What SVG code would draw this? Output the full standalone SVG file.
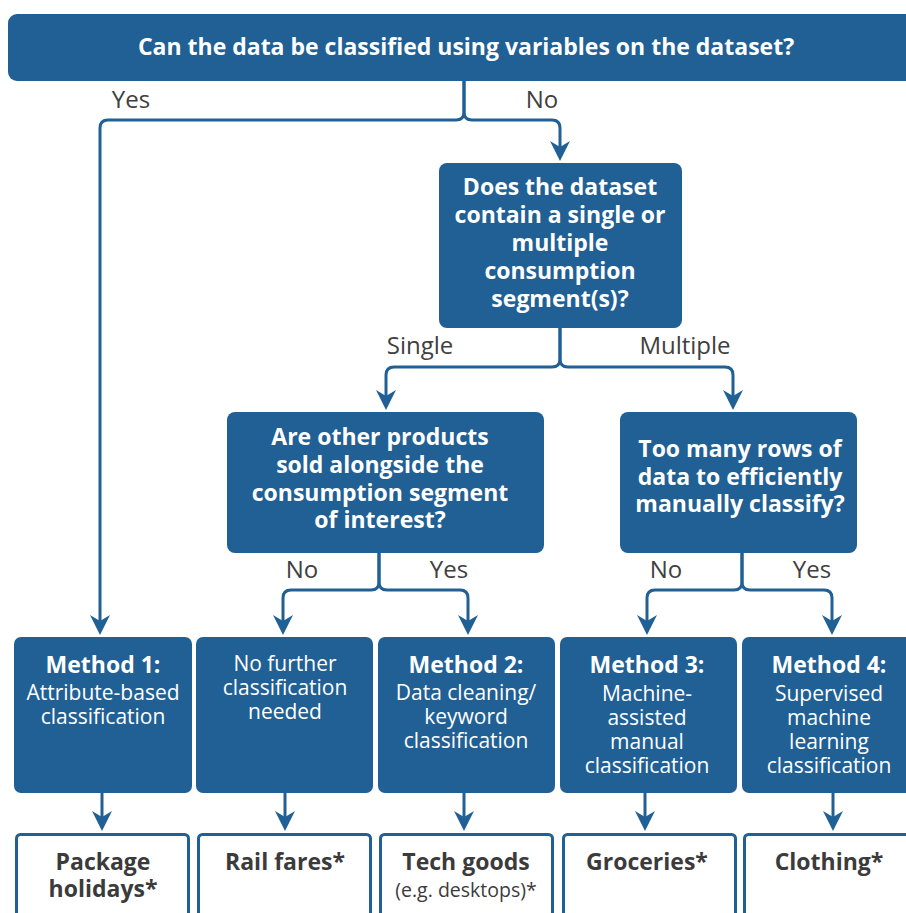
<svg xmlns="http://www.w3.org/2000/svg" width="906" height="913" viewBox="0 0 906 913">
<defs>
<style>
.box{fill:#206095;}
.out{fill:#ffffff;stroke:#206095;stroke-width:3;}
.q{font-family:"Open Sans","Noto Sans","DejaVu Sans",sans-serif;font-weight:bold;font-size:23px;fill:#ffffff;text-anchor:middle;}
.mt{font-family:"Open Sans","Noto Sans","DejaVu Sans",sans-serif;font-weight:bold;font-size:23px;fill:#ffffff;text-anchor:middle;}
.mr{font-family:"Open Sans","Noto Sans","DejaVu Sans",sans-serif;font-size:21px;fill:#ffffff;text-anchor:middle;}
.lbl{font-family:"Open Sans","Noto Sans","DejaVu Sans",sans-serif;font-size:24px;fill:#404040;text-anchor:middle;}
.ob{font-family:"Open Sans","Noto Sans","DejaVu Sans",sans-serif;font-weight:bold;font-size:23px;fill:#3b3b3b;text-anchor:middle;}
.or{font-family:"Open Sans","Noto Sans","DejaVu Sans",sans-serif;font-size:19.5px;fill:#3b3b3b;text-anchor:middle;}
.c{fill:none;stroke:#206095;stroke-width:3;}
</style>
<marker id="ah" viewBox="-21 -11 22 22" refX="-6" refY="0" markerWidth="22" markerHeight="22" markerUnits="userSpaceOnUse" orient="auto">
<path d="M0,0 L-20,-10 L-14,0 L-20,10 Z" fill="#206095"/>
</marker>
</defs>

<g id="connectors">
<path class="c" d="M464,81 V112 Q464,120 456,120 H108 Q100,120 100,128 V629" marker-end="url(#ah)"/>
<path class="c" d="M464,81 V112 Q464,120 472,120 H552 Q560,120 560,128 V155" marker-end="url(#ah)"/>
<path class="c" d="M560,328 V359 Q560,367 552,367 H394 Q386,367 386,375 V404" marker-end="url(#ah)"/>
<path class="c" d="M560,328 V359 Q560,367 568,367 H725 Q733,367 733,375 V404" marker-end="url(#ah)"/>
<path class="c" d="M379,553 V582 Q379,590 371,590 H291 Q283,590 283,598 V629" marker-end="url(#ah)"/>
<path class="c" d="M379,553 V582 Q379,590 387,590 H460 Q468,590 468,598 V629" marker-end="url(#ah)"/>
<path class="c" d="M742,553 V582 Q742,590 734,590 H655 Q647,590 647,598 V629" marker-end="url(#ah)"/>
<path class="c" d="M742,553 V582 Q742,590 750,590 H824 Q832,590 832,598 V629" marker-end="url(#ah)"/>
<path class="c" d="M102,793 V825" marker-end="url(#ah)"/>
<path class="c" d="M285,793 V825" marker-end="url(#ah)"/>
<path class="c" d="M464,793 V825" marker-end="url(#ah)"/>
<path class="c" d="M645,793 V825" marker-end="url(#ah)"/>
<path class="c" d="M833,793 V825" marker-end="url(#ah)"/>
</g>

<g id="labels">
<text class="lbl" x="131" y="108">Yes</text>
<text class="lbl" x="542" y="108">No</text>
<text class="lbl" x="420" y="354">Single</text>
<text class="lbl" x="685" y="354">Multiple</text>
<text class="lbl" x="302" y="578">No</text>
<text class="lbl" x="449" y="578">Yes</text>
<text class="lbl" x="666" y="578">No</text>
<text class="lbl" x="812" y="578">Yes</text>
</g>

<g id="q1">
<rect class="box" x="8" y="14" width="912" height="67" rx="9"/>
<text class="q" x="466" y="55">Can the data be classified using variables on the dataset?</text>
</g>

<g id="q2">
<rect class="box" x="439" y="163" width="243" height="165" rx="8"/>
<text class="q" x="560" y="195">Does the dataset</text>
<text class="q" x="560" y="223">contain a single or</text>
<text class="q" x="560" y="251">multiple</text>
<text class="q" x="560" y="279">consumption</text>
<text class="q" x="560" y="307">segment(s)?</text>
</g>

<g id="q3">
<rect class="box" x="227" y="412" width="317" height="141" rx="8"/>
<text class="q" x="380" y="445">Are other products</text>
<text class="q" x="380" y="473">sold alongside the</text>
<text class="q" x="380" y="501">consumption segment</text>
<text class="q" x="380" y="528">of interest?</text>
</g>

<g id="q4">
<rect class="box" x="620" y="412" width="237" height="141" rx="8"/>
<text class="q" x="740" y="457">Too many rows of</text>
<text class="q" x="740" y="485">data to efficiently</text>
<text class="q" x="740" y="512">manually classify?</text>
</g>

<g id="m1">
<rect class="box" x="14" y="637" width="178" height="156" rx="7"/>
<text class="mt" x="103" y="673">Method 1:</text>
<text class="mr" x="103" y="700">Attribute-based</text>
<text class="mr" x="103" y="724">classification</text>
</g>

<g id="m0">
<rect class="box" x="196" y="637" width="177" height="156" rx="7"/>
<text class="mr" x="285" y="671">No further</text>
<text class="mr" x="285" y="695">classification</text>
<text class="mr" x="285" y="719">needed</text>
</g>

<g id="m2">
<rect class="box" x="378" y="637" width="177" height="156" rx="7"/>
<text class="mt" x="466" y="673">Method 2:</text>
<text class="mr" x="466" y="700">Data cleaning/</text>
<text class="mr" x="466" y="724">keyword</text>
<text class="mr" x="466" y="748">classification</text>
</g>

<g id="m3">
<rect class="box" x="560" y="637" width="177" height="156" rx="7"/>
<text class="mt" x="647" y="673">Method 3:</text>
<text class="mr" x="647" y="701">Machine-</text>
<text class="mr" x="647" y="725">assisted</text>
<text class="mr" x="647" y="749">manual</text>
<text class="mr" x="647" y="773">classification</text>
</g>

<g id="m4">
<rect class="box" x="742" y="637" width="177" height="156" rx="7"/>
<text class="mt" x="829" y="673">Method 4:</text>
<text class="mr" x="829" y="701">Supervised</text>
<text class="mr" x="829" y="725">machine</text>
<text class="mr" x="829" y="749">learning</text>
<text class="mr" x="829" y="773">classification</text>
</g>

<g id="o1">
<rect class="out" x="16.5" y="834.5" width="172" height="100" rx="4"/>
<text class="ob" x="103" y="870">Package</text>
<text class="ob" x="103" y="897">holidays*</text>
</g>
<g id="o2">
<rect class="out" x="198.5" y="834.5" width="172" height="100" rx="4"/>
<text class="ob" x="285" y="870">Rail fares*</text>
</g>
<g id="o3">
<rect class="out" x="380.5" y="834.5" width="172" height="100" rx="4"/>
<text class="ob" x="466" y="870">Tech goods</text>
<text class="or" x="466" y="897">(e.g. desktops)*</text>
</g>
<g id="o4">
<rect class="out" x="563.5" y="834.5" width="172" height="100" rx="4"/>
<text class="ob" x="647" y="870">Groceries*</text>
</g>
<g id="o5">
<rect class="out" x="744.5" y="834.5" width="172" height="100" rx="4"/>
<text class="ob" x="829" y="870">Clothing*</text>
</g>
</svg>
